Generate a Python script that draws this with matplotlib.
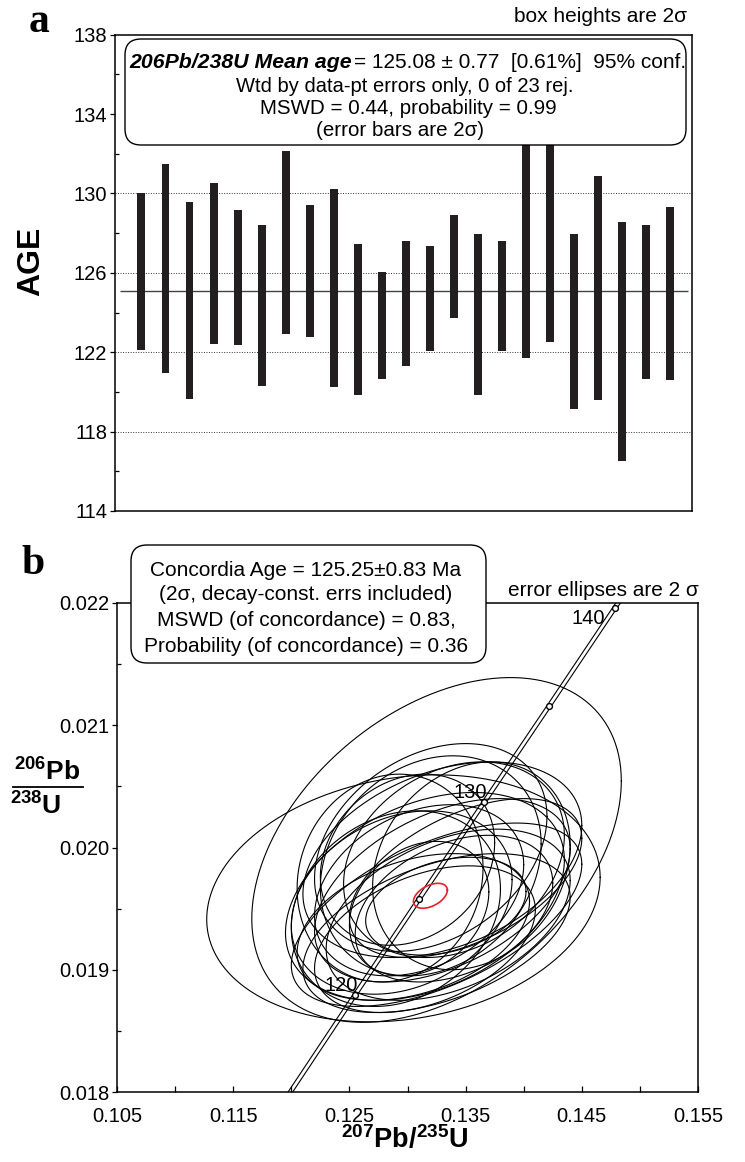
import numpy as np
import matplotlib
matplotlib.use("Agg")
import matplotlib.pyplot as plt
from matplotlib.patches import FancyBboxPatch
from matplotlib.transforms import IdentityTransform
from matplotlib.lines import Line2D

plt.rcParams['font.family'] = ['Liberation Sans', 'DejaVu Sans']
plt.rcParams['mathtext.fontset'] = 'custom'
plt.rcParams['mathtext.rm'] = 'Liberation Sans'
plt.rcParams['mathtext.bf'] = 'Liberation Sans:bold'
plt.rcParams['mathtext.it'] = 'Liberation Sans:italic'

##################################
# Data
##################################
# panel a: 206Pb/238U ages, 2 sigma box ranges (Ma)
spot_no = list(range(1, 24))
age_lo = [122.1, 120.95, 119.66, 122.41, 122.36, 120.28, 122.94, 122.77, 120.24, 119.86,
          120.67, 121.3, 122.06, 123.72, 119.87, 122.06, 121.73, 122.51, 119.13, 119.59,
          116.51, 120.65, 120.62]
age_hi = [130.0, 131.5, 129.58, 130.55, 129.16, 128.39, 132.15, 129.41, 130.2, 127.46,
          126.03, 127.59, 127.36, 128.9, 127.95, 127.6, 135.6, 134.4, 127.98, 130.86,
          128.57, 128.42, 129.31]
mean_age = 125.08

# panel b: error ellipses (centre, half-extent in x and y, error correlation)
ell_cx = [0.1325, 0.12965, 0.1315, 0.1330, 0.1320, 0.1340, 0.1290, 0.1335, 0.1333, 0.1310,
          0.1325, 0.1305, 0.1350, 0.1285, 0.1320, 0.1330, 0.1310, 0.1340, 0.1295, 0.1355,
          0.1325, 0.1300, 0.1315]
ell_cy = [0.01998, 0.019584, 0.01960, 0.01965, 0.01985, 0.01990, 0.01950, 0.01945, 0.01952, 0.01950,
          0.01930, 0.01935, 0.01975, 0.01975, 0.02000, 0.01990, 0.01965, 0.01950, 0.01955, 0.01985,
          0.01945, 0.01990, 0.01925]
ell_sx = [0.0159, 0.01693, 0.0120, 0.0110, 0.0095, 0.0095, 0.0090, 0.0105, 0.0069, 0.0060,
          0.0115, 0.0100, 0.0100, 0.0080, 0.0100, 0.0120, 0.0090, 0.0085, 0.0095, 0.0085,
          0.0125, 0.0075, 0.0095]
ell_sy = [0.00141, 0.00101, 0.00085, 0.00075, 0.00090, 0.00080, 0.00080, 0.00070, 0.00040, 0.00055,
          0.00065, 0.00060, 0.00065, 0.00085, 0.00085, 0.00080, 0.00070, 0.00060, 0.00075, 0.00085,
          0.00075, 0.00070, 0.00060]
ell_rho = [0.40, 0.17, 0.35, 0.45, 0.20, 0.25, 0.20, 0.40, 0.30, 0.25,
           0.45, 0.35, 0.50, 0.10, 0.30, 0.35, 0.30, 0.35, 0.25, 0.20,
           0.55, 0.20, 0.40]

# concordia age ellipse (red)
conc_ell = (0.13197, 0.019605, 0.00146, 0.000102, 0.45)

# concordia curve points (Ma, 207Pb/235U, 206Pb/238U)
conc_age = [110, 115, 120, 125, 130, 135, 140, 145]
conc_x = [0.11442, 0.11992, 0.12545, 0.13101, 0.13659, 0.14220, 0.14784, 0.15350]
conc_y = [0.01721, 0.01800, 0.01879, 0.01958, 0.02037, 0.02116, 0.02196, 0.02275]
tick_ages = [120, 125, 130, 135, 140]
label_ages = [120, 130, 140]

W, H = 745, 1162


def fx(px):
    return px / W


def fy(py):
    return 1 - py / H


def ellipse_xy(cx, cy, sx, sy, rho):
    t = np.linspace(0, 2 * np.pi, 300)
    x = cx + sx * np.cos(t)
    y = cy + sy * (rho * np.cos(t) + np.sqrt(1 - rho ** 2) * np.sin(t))
    return x, y


fig = plt.figure(figsize=(W / 100, H / 100), dpi=100)

##################################
# Panel a
##################################
ax1 = fig.add_axes([fx(115), fy(511), (692 - 115) / W, (511 - 34.7) / H])
ax1.set_xlim(-0.1, 23.9)
ax1.set_ylim(114, 138)
for g in [118, 122, 126, 130]:
    ax1.axhline(g, color='#333333', lw=0.7, linestyle=(0, (1, 1.6)), zorder=1)
ax1.hlines(mean_age, 0.1, 23.73, color='#444444', lw=1.0, zorder=2)
heights = [h - l for l, h in zip(age_lo, age_hi)]
ax1.bar(spot_no, heights, bottom=age_lo, width=0.33, color='#231f20', zorder=3)
ax1.set_xticks([])
ax1.set_yticks(range(114, 139, 4))
ax1.set_yticks(range(116, 138, 4), minor=True)
ax1.tick_params(axis='y', which='major', direction='out', length=3.5, width=0.9,
                labelsize=14.5, pad=2)
ax1.tick_params(axis='y', which='minor', direction='in', length=3, width=0.9)
for s in ax1.spines.values():
    s.set_linewidth(1.1)
fig.text(fx(31), fy(261), 'AGE', rotation=90, fontsize=23, fontweight='bold',
         ha='center', va='center')

##################################
# Panel b
##################################
ax2 = fig.add_axes([fx(117), fy(1092), (698 - 117) / W, (1092 - 603) / H])
ax2.set_xlim(0.105, 0.155)
ax2.set_ylim(0.018, 0.022)

for cx, cy, sx, sy, r in zip(ell_cx, ell_cy, ell_sx, ell_sy, ell_rho):
    ex, ey = ellipse_xy(cx, cy, sx, sy, r)
    ax2.plot(ex, ey, color='black', lw=0.8, zorder=2)

ex, ey = ellipse_xy(*conc_ell)
ax2.plot(ex, ey, color='#e8202a', lw=1.2, zorder=4)

cx_arr = np.array(conc_x)
ax2.plot(cx_arr - 0.0002, conc_y, color='black', lw=0.8, zorder=3)
ax2.plot(cx_arr + 0.0002, conc_y, color='black', lw=0.8, zorder=3)
tx = [conc_x[conc_age.index(a)] for a in tick_ages]
ty = [conc_y[conc_age.index(a)] for a in tick_ages]
ax2.plot(tx, ty, 'o', ms=4.2, mfc='white', mec='black', mew=1.0, zorder=5, clip_on=False)
for a in label_ages:
    i = conc_age.index(a)
    if a == 140:
        ax2.annotate(str(a), (conc_x[i], conc_y[i]), xytext=(-7, -1),
                     textcoords='offset points', ha='right', va='top', fontsize=14.5)
    else:
        ax2.annotate(str(a), (conc_x[i], conc_y[i]), xytext=(2, 0),
                     textcoords='offset points', ha='right', va='bottom', fontsize=14.5)

ax2.set_xticks([0.105, 0.115, 0.125, 0.135, 0.145, 0.155])
ax2.set_xticklabels(['0.105', '0.115', '0.125', '0.135', '0.145', '0.155'])
ax2.set_xticks([0.110, 0.120, 0.130, 0.140, 0.150], minor=True)
ax2.set_yticks([0.018, 0.019, 0.020, 0.021, 0.022])
ax2.set_yticklabels(['0.018', '0.019', '0.020', '0.021', '0.022'])
ax2.set_yticks([0.0185, 0.0195, 0.0205, 0.0215], minor=True)
ax2.tick_params(axis='x', which='both', direction='in', length=4, width=0.9,
                labelsize=14.5, pad=11)
ax2.tick_params(axis='y', which='major', direction='out', length=3.5, width=0.9,
                labelsize=14.5, pad=2)
ax2.tick_params(axis='y', which='minor', direction='in', length=3, width=0.9)
for s in ax2.spines.values():
    s.set_linewidth(1.1)

# axis labels for panel b
fig.text(fx(405), fy(1140), r'$^{\mathbf{207}}\mathbf{Pb/}^{\mathbf{235}}\mathbf{U}$',
         fontsize=19.5, ha='center', va='center')
fig.text(fx(47), fy(772), r'$^{\mathbf{206}}\mathbf{Pb}$', fontsize=19, ha='center', va='center')
fig.add_artist(Line2D([fx(13), fx(83)], [fy(787), fy(787)], color='black', lw=1.3))
fig.text(fx(36), fy(806), r'$^{\mathbf{238}}\mathbf{U}$', fontsize=19, ha='center', va='center')

##################################
# Boxes and annotations
##################################
box_a = FancyBboxPatch((125, H - 145), 686 - 125, 145 - 39,
                       boxstyle='round,pad=0,rounding_size=16', transform=IdentityTransform(),
                       facecolor='white', edgecolor='black', lw=1.0, zorder=5)
fig.add_artist(box_a)
box_b = FancyBboxPatch((131, H - 663), 486 - 131, 663 - 545,
                       boxstyle='round,pad=0,rounding_size=16', transform=IdentityTransform(),
                       facecolor='white', edgecolor='black', lw=1.0, zorder=5)
fig.add_artist(box_b)

fig.text(fx(352), fy(63), '206Pb/238U Mean age', fontsize=15.3, fontweight='bold',
         fontstyle='italic', ha='right', va='center', zorder=6)
fig.text(fx(354), fy(63), '= 125.08 ± 0.77  [0.61%]  95% conf.', fontsize=15,
         ha='left', va='center', zorder=6)
fig.text(fx(405), fy(87), 'Wtd by data-pt errors only, 0 of 23 rej.', fontsize=14.5,
         ha='center', va='center', zorder=6)
fig.text(fx(408), fy(109), 'MSWD = 0.44, probability = 0.99', fontsize=14.8,
         ha='center', va='center', zorder=6)
fig.text(fx(400), fy(130), '(error bars are 2σ)', fontsize=14.8,
         ha='center', va='center', zorder=6)

fig.text(fx(306), fy(571), 'Concordia Age = 125.25±0.83 Ma', fontsize=15,
         ha='center', va='center', zorder=6)
fig.text(fx(306), fy(595), '(2σ, decay-const. errs included)', fontsize=15,
         ha='center', va='center', zorder=6)
fig.text(fx(306), fy(621), 'MSWD (of concordance) = 0.83,', fontsize=15,
         ha='center', va='center', zorder=6)
fig.text(fx(306), fy(646), 'Probability (of concordance) = 0.36', fontsize=15,
         ha='center', va='center', zorder=6)

fig.text(fx(687), fy(16), 'box heights are 2σ', fontsize=15, ha='right', va='center')
fig.text(fx(699), fy(590), 'error ellipses are 2 σ', fontsize=15, ha='right', va='center')

fig.text(fx(39), fy(22), 'a', family='Liberation Serif', fontweight='bold', fontsize=30,
         ha='center', va='center')
fig.text(fx(33), fy(564), 'b', family='Liberation Serif', fontweight='bold', fontsize=30,
         ha='center', va='center')

fig.savefig('out.png', dpi=100)
